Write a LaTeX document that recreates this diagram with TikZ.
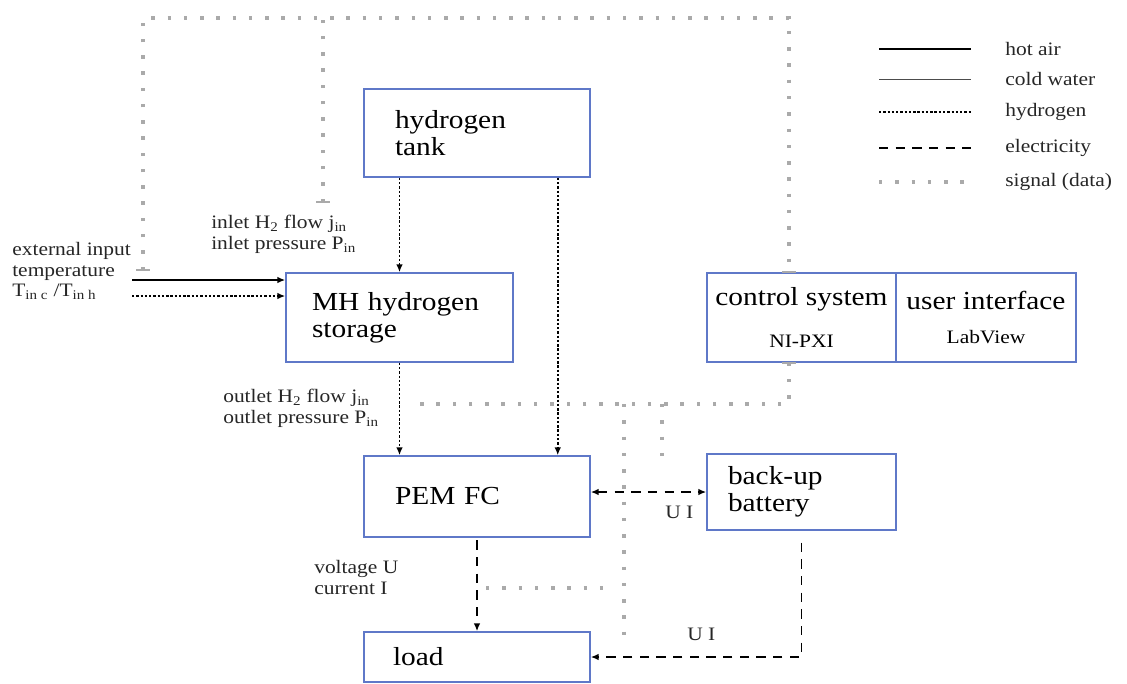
\documentclass[tikz,border=0pt]{standalone}
\usepackage{fontspec}
\setmainfont{Liberation Serif}[FakeStretch=1.13]
\usetikzlibrary{arrows.meta}

\definecolor{boxblue}{RGB}{95,120,200}
\definecolor{siggray}{RGB}{170,170,170}
\newcommand{\bigtxt}{\fontsize{19.5}{20}\selectfont}
\newcommand{\smalltxt}{\fontsize{14.25}{15.5}\selectfont}

\tikzset{
  box/.style={draw=boxblue, line width=1.1pt, align=left, font=\bigtxt, inner ysep=0pt},
  lbl/.style={font=\smalltxt, align=left, inner sep=0pt, text=black!85},
  hotair/.style={line width=1.4pt},
  coldwater/.style={line width=0.6pt, black!70},
  hyd/.style={line width=1.4pt, dash pattern=on 1.8pt off 1.4pt},
  elec/.style={line width=1.3pt, dash pattern=on 7pt off 5.5pt},
  signal/.style={siggray, line width=2.6pt, dash pattern=on 2.6pt off 9.6pt},
  sigmark/.style={siggray, line width=1.5pt},
  tip/.style={-{Latex[length=6pt,width=5pt]}},
  tips/.style={{Latex[length=6pt,width=5pt]}-{Latex[length=6pt,width=5pt]}},
}

\begin{document}
\begin{tikzpicture}[x=0.75pt, y=-0.75pt]
\useasboundingbox (0,0) rectangle (1127,683);

% components
\node[box, text width=123pt, inner xsep=23.25pt, minimum height=66pt] (tank) at (477,133) {hydrogen\\tank};
\node[box, text width=131.25pt, inner xsep=19.5pt, minimum height=66.75pt] (mh) at (399.5,317.5) {MH hydrogen\\storage};
\node[box, text width=123pt, inner xsep=23.25pt, minimum height=60.75pt] (pem) at (477,496.5) {PEM FC};
\node[box, text width=126pt, inner xsep=21.75pt, minimum height=37.5pt] (load) at (477,657) {load};
\node[box, text width=110.25pt, inner xsep=15.75pt, minimum height=57pt] (batt) at (801.5,492) {back-up\\battery};
\node[box, align=center, minimum width=141.75pt, minimum height=66.75pt, inner xsep=0pt] (ctrl) at (801.5,317.5)
  {control system\\[12pt]{\smalltxt NI-PXI}};
\node[box, align=center, minimum width=135pt, minimum height=66.75pt, inner xsep=0pt] (ui) at (986,317.5)
  {user interface\\[6pt]{\smalltxt LabView}};

% hydrogen
\draw[hyd, tip] (mh.north |- tank.south) -- (mh.north);
\draw[hyd, tip] ([xshift=-24.75pt]tank.south east) -- ([xshift=-24.75pt]pem.north east);
\draw[hyd, tip] (mh.south) -- (mh.south |- pem.north);

% external input
\coordinate (tin) at (132,280);
\coordinate (hin) at (132,296);
\draw[hotair, tip] (tin) -- (tin -| mh.west);
\draw[hyd, tip] (hin) -- (hin -| mh.west);

% electricity
\draw[elec, tip, shorten <=2pt] (pem.south) -- (load.north);
\draw[elec, tips] (pem.east |- batt.west) -- (batt.west);
\draw[elec, tip, shorten <=9pt] (batt.south) |- (load.east);

% labels
\node[lbl, anchor=north west] (inlet) at (211,215) {inlet H\textsubscript{2} flow j\textsubscript{in}\\inlet pressure P\textsubscript{in}};
\node[lbl, anchor=north west] (extin) at (12,242) {external input\\temperature\\T\textsubscript{in c} /T\textsubscript{in h}};
\node[lbl, anchor=north west] (outlet) at (223,389) {outlet H\textsubscript{2} flow j\textsubscript{in}\\outlet pressure P\textsubscript{in}};
\node[lbl, anchor=north west] (volt) at (314,560) {voltage U\\current I};
\node[lbl, anchor=base west] (ulabA) at (665,518) {U I};
\node[lbl, anchor=base west] (ulabB) at (687,640) {U I};

% signal lines
\coordinate (sA) at (143,270);
\coordinate (sB) at (323,202);
\coordinate (sC) at (789,18);
\coordinate (sD) at (411,404);
\coordinate (sE) at (624,647);
\coordinate (sF) at (662,468);
\coordinate (sG) at (486,588);
\coordinate (sH) at (sC |- ctrl.north);
\coordinate (sI) at (sC |- ctrl.south);
\draw[signal] (sA) |- (sC) -- (sH);
\draw[signal] (sB) -- (sB |- sC);
\draw[signal] (sI) |- (sD);
\draw[signal] (sE |- sD) -- (sE);
\draw[signal] (sF |- sD) -- (sF);
\draw[signal] (sG) -- ([xshift=-7pt]sG -| sE);
\foreach \p in {sA, sB, sH, sI}
  \draw[sigmark] ([xshift=-5pt]\p) -- ([xshift=5pt]\p);

% legend
\foreach \s/\y/\t in {hotair/49/hot air, coldwater/79/cold water, hyd/112/hydrogen, elec/148/electricity, signal/182/signal (data)} {
  \node[lbl, anchor=west] (leg-\s) at (1005,\y) {\t};
  \draw[\s] (879,\y) -- (971,\y);
}
\end{tikzpicture}
\end{document}
